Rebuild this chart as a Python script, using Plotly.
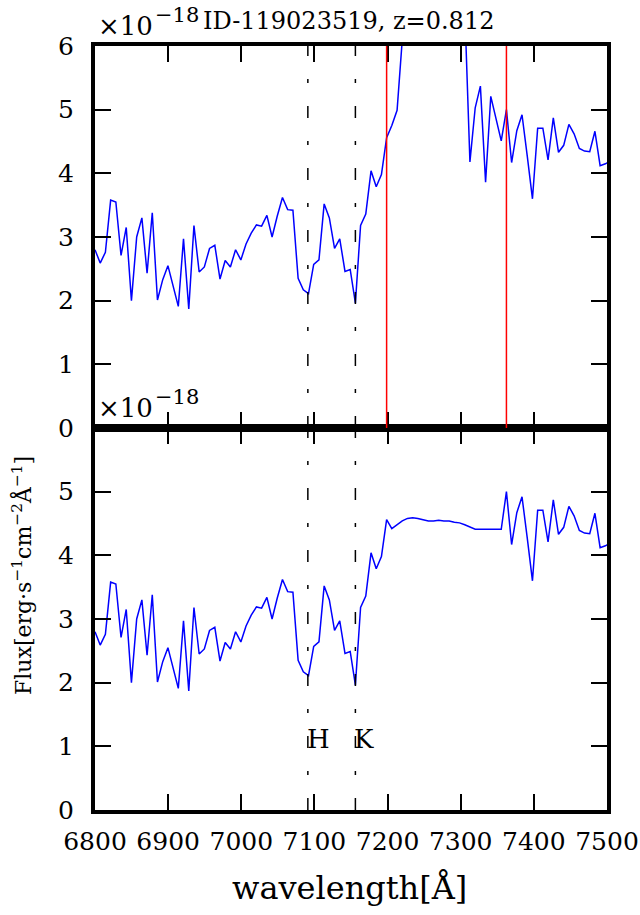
import plotly.graph_objects as go
from plotly.subplots import make_subplots

# wavelength grid [Angstrom]
wavelength = [
    6800.0, 6807.1, 6814.2, 6821.4, 6828.5, 6835.6, 6842.7, 6849.8, 6857.0, 6864.1,
    6871.2, 6878.3, 6885.4, 6892.6, 6899.7, 6906.8, 6913.9, 6921.0, 6928.2, 6935.3,
    6942.4, 6949.5, 6956.6, 6963.8, 6970.9, 6978.0, 6985.1, 6992.2, 6999.4, 7006.5,
    7013.6, 7020.7, 7027.8, 7035.0, 7042.1, 7049.2, 7056.3, 7063.4, 7070.6, 7077.7,
    7084.8, 7091.9, 7099.0, 7106.2, 7113.3, 7120.4, 7127.5, 7134.6, 7141.8, 7148.9,
    7156.0, 7163.1, 7170.2, 7177.4, 7184.5, 7191.6, 7198.7, 7205.8, 7213.0, 7220.1,
    7227.2, 7234.3, 7241.4, 7248.6, 7255.7, 7262.8, 7269.9, 7277.0, 7284.2, 7291.3,
    7298.4, 7305.5, 7312.6, 7319.8, 7326.9, 7334.0, 7341.1, 7348.2, 7355.4, 7362.5,
    7369.6, 7376.7, 7383.8, 7391.0, 7398.1, 7405.2, 7412.3, 7419.4, 7426.6, 7433.7,
    7440.8, 7447.9, 7455.0, 7462.2, 7469.3, 7476.4, 7483.5, 7490.6, 7497.8, 7504.9,
]

# observed flux [1e-18 erg/s/cm^2/A]
flux_observed = [
    2.80, 2.59, 2.76, 3.58, 3.55, 2.71, 3.15, 2.00, 3.00, 3.30,
    2.43, 3.38, 2.01, 2.33, 2.55, 2.23, 1.91, 2.97, 1.87, 3.18,
    2.45, 2.53, 2.82, 2.87, 2.34, 2.63, 2.53, 2.80, 2.64, 2.89,
    3.06, 3.19, 3.17, 3.34, 3.00, 3.33, 3.62, 3.43, 3.42, 2.35,
    2.17, 2.11, 2.57, 2.64, 3.52, 3.30, 2.82, 2.97, 2.46, 2.49,
    1.96, 3.18, 3.36, 4.04, 3.79, 3.98, 4.56, 4.75, 4.99, 6.10,
    7.20, 8.60, 9.40, 8.80, 8.10, 7.60, 7.30, 7.00, 6.90, 7.10,
    6.80, 6.60, 4.18, 5.03, 5.37, 3.86, 5.21, 4.85, 4.51, 5.00,
    4.17, 4.67, 4.92, 4.27, 3.60, 4.71, 4.71, 4.21, 4.87, 4.33,
    4.44, 4.77, 4.62, 4.39, 4.35, 4.34, 4.66, 4.12, 4.15, 4.20,
]

# flux with masked region replaced (bottom panel)
flux_cleaned = [
    2.80, 2.59, 2.76, 3.58, 3.55, 2.71, 3.15, 2.00, 3.00, 3.30,
    2.43, 3.38, 2.01, 2.33, 2.55, 2.23, 1.91, 2.97, 1.87, 3.18,
    2.45, 2.53, 2.82, 2.87, 2.34, 2.63, 2.53, 2.80, 2.64, 2.89,
    3.06, 3.19, 3.17, 3.34, 3.00, 3.33, 3.62, 3.43, 3.42, 2.35,
    2.17, 2.11, 2.57, 2.64, 3.52, 3.30, 2.82, 2.97, 2.46, 2.49,
    1.96, 3.18, 3.36, 4.04, 3.79, 3.98, 4.56, 4.42, 4.48, 4.54,
    4.58, 4.59, 4.58, 4.56, 4.54, 4.54, 4.55, 4.54, 4.54, 4.52,
    4.51, 4.48, 4.45, 4.41, 4.41, 4.41, 4.41, 4.41, 4.41, 5.00,
    4.17, 4.67, 4.92, 4.27, 3.60, 4.71, 4.71, 4.21, 4.87, 4.33,
    4.44, 4.77, 4.62, 4.39, 4.35, 4.34, 4.66, 4.12, 4.15, 4.20,
]

line_positions = [7091.0, 7156.0]
line_labels = ["H", "K"]
mask_edges = [7198.7, 7362.5]

x_ticks = [6800, 6900, 7000, 7100, 7200, 7300, 7400, 7500]
y_ticks_top = [0, 1, 2, 3, 4, 5, 6]
y_ticks_bottom = [0, 1, 2, 3, 4, 5]

title_text = "ID-119023519, z=0.812"
offset_base = "×10"
offset_exp = "−18"
x_title = "wavelength[Å]"
y_title = "Flux[erg·s<sup>−1</sup>cm<sup>−2</sup>Å<sup>−1</sup>]"

FONT = "DejaVu Serif"

fig = make_subplots(rows=2, cols=1, shared_xaxes=True, vertical_spacing=0)

fig.add_trace(go.Scatter(x=wavelength, y=flux_observed, mode="lines",
                         line=dict(color="#0000ff", width=1.5), showlegend=False),
              row=1, col=1)
fig.add_trace(go.Scatter(x=wavelength, y=flux_cleaned, mode="lines",
                         line=dict(color="#0000ff", width=1.5), showlegend=False),
              row=2, col=1)

shapes = []
for xr, yr in [("x", "y domain"), ("x2", "y2 domain")]:
    for xp in line_positions:
        shapes.append(dict(type="line", xref=xr, yref=yr, x0=xp, x1=xp, y0=0, y1=1,
                           line=dict(color="black", width=1.5, dash="12px,23px,4px,23px"),
                           layer="above"))
for xp in mask_edges:
    shapes.append(dict(type="line", xref="x", yref="y domain", x0=xp, x1=xp, y0=0, y1=1,
                       line=dict(color="#ff0000", width=1.5), layer="above"))

axis_common = dict(showline=True, linewidth=4, linecolor="black", mirror="allticks",
                   ticks="inside", ticklen=16, tickwidth=1.5, tickcolor="black",
                   showgrid=False, zeroline=False, automargin=False,
                   tickfont=dict(family=FONT, size=25, color="black"))

fig.update_xaxes(range=[6800, 7500], tickvals=x_ticks, ticktext=[str(v) for v in x_ticks],
                 ticklabelstandoff=6, **axis_common)
fig.update_xaxes(showticklabels=False, row=1, col=1)
fig.update_yaxes(range=[0, 6], ticklabelstandoff=12, **axis_common)
fig.update_yaxes(tickvals=y_ticks_top, row=1, col=1)
fig.update_yaxes(tickvals=y_ticks_bottom, row=2, col=1)

annotations = [
    dict(text=title_text, xref="paper", yref="paper", x=0.496, y=1.0327,
         xanchor="center", yanchor="middle", showarrow=False,
         font=dict(family=FONT, size=24, color="black")),
    dict(text=x_title, xref="paper", yref="paper", x=0.498, y=-0.102,
         xanchor="center", yanchor="middle", showarrow=False,
         font=dict(family=FONT, size=32, color="black")),
    dict(text=y_title, xref="paper", yref="paper", x=-0.1348, y=0.3076,
         xanchor="center", yanchor="middle", showarrow=False, textangle=-90,
         xshift=-4,
         font=dict(family=FONT, size=22, color="black")),
]
# offset texts (x10^-18) for both panels
for yr in ["y domain", "y2 domain"]:
    xr = "x domain" if yr == "y domain" else "x2 domain"
    annotations.append(dict(text=offset_base, xref=xr, yref=yr, x=0.0, y=1.0,
                            xanchor="left", yanchor="middle", showarrow=False,
                            xshift=1, yshift=20,
                            font=dict(family=FONT, size=26, color="black")))
    annotations.append(dict(text=offset_exp, xref=xr, yref=yr, x=0.0, y=1.0,
                            xanchor="left", yanchor="middle", showarrow=False,
                            xshift=58, yshift=31,
                            font=dict(family=FONT, size=21, color="black")))

for xp, lab in zip(line_positions, line_labels):
    annotations.append(dict(text=lab, xref="x2", yref="y2", x=xp, y=1.12,
                            xanchor="left", yanchor="middle", showarrow=False,
                            xshift=-3,
                            font=dict(family=FONT, size=26, color="black")))

fig.update_layout(width=640, height=915, margin=dict(l=95, r=33, t=46, b=105),
                  paper_bgcolor="white", plot_bgcolor="white",
                  shapes=shapes, annotations=annotations, showlegend=False)

fig.write_html("out.html")
